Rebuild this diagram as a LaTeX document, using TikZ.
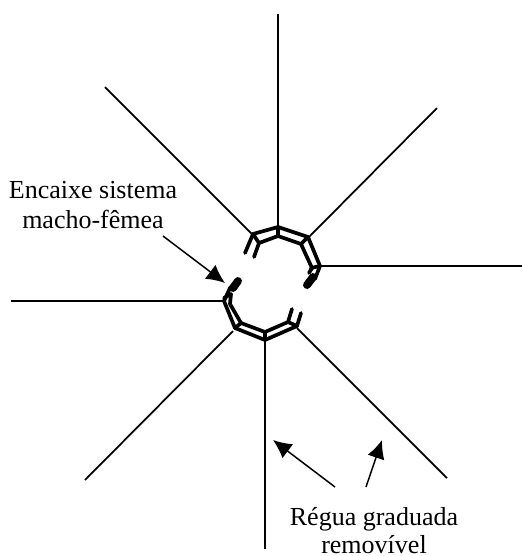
\documentclass[tikz,border=0pt]{standalone}
\usepackage{fontspec}
\setmainfont{Liberation Serif}
\usetikzlibrary{arrows.meta}
\tikzset{
  regua/.style={line width=1pt},
  seta/.style={line width=.85pt,-{Latex[length=10.5pt,width=10pt]}},
  anel/.style={line width=2.1pt,line join=round,line cap=round},
  rotulo/.style={align=center,font=\fontsize{14.8}{17}\selectfont,inner sep=0pt}
}
\begin{document}
\begin{tikzpicture}[x=.02cm,y=-.02cm]
    \useasboundingbox (0,0) rectangle (523,556);
    % reguas
    \coordinate (a1) at (278,14);   \coordinate (b1) at (278,229);
    \coordinate (a2) at (105,87);   \coordinate (b2) at (253,235);
    \coordinate (a3) at (437,108);  \coordinate (b3) at (309,237);
    \coordinate (a4) at (522,266);  \coordinate (b4) at (320,266);
    \coordinate (a5) at (11,301);   \coordinate (b5) at (225,301);
    \coordinate (a6) at (85,480);   \coordinate (b6) at (233,331);
    \coordinate (a7) at (265,549);  \coordinate (b7) at (265,340);
    \coordinate (a8) at (447,478);  \coordinate (b8) at (297,328);
    \foreach \n in {1,...,8}
        \draw[regua](a\n)--(b\n);
    % anel de cima
    \draw[anel](245,253)--(253,234)--(278,227)--(308,237)--(320,266)--(315,279);
    \draw[anel](254,257)--(259,243)--(278,236)--(301,244)--(312,268)--(309,273);
    \draw[anel](253,234)--(259,243) (278,227)--(278,236) (308,237)--(301,244);
    \draw[anel](311,268)--(320,266);
    \draw[anel,line width=4.5pt](313,277)--(307,285);
    % anel de baixo
    \draw[anel](237,281)--(230,288)--(224,301)--(235,328)--(265,340)--(297,326)--(301,313);
    \draw[anel](231,294)--(230,304)--(241,323)--(265,332)--(288,322)--(292,309);
    \draw[anel](235,328)--(241,323) (265,340)--(265,332) (297,326)--(288,322);
    \draw[anel](224,298)--(231,294);
    \draw[anel,line width=4.5pt](238,281)--(233,288);
    % textos
    \node[rotulo] (encaixe) at (93,205) {Encaixe sistema\\macho-fêmea};
    \node[rotulo] (graduada) at (374,530.5) {Régua graduada\\[-.6pt]removível};
    \coordinate (e1) at (163,236);  \coordinate (e2) at (225,283);
    \coordinate (g1) at (335,487);  \coordinate (g2) at (273,440);
    \coordinate (g3) at (366,487);  \coordinate (g4) at (382,440);
    \draw[seta](e1)--(e2);
    \draw[seta](g1)--(g2);
    \draw[seta](g3)--(g4);
    \end{tikzpicture}
\end{document}
